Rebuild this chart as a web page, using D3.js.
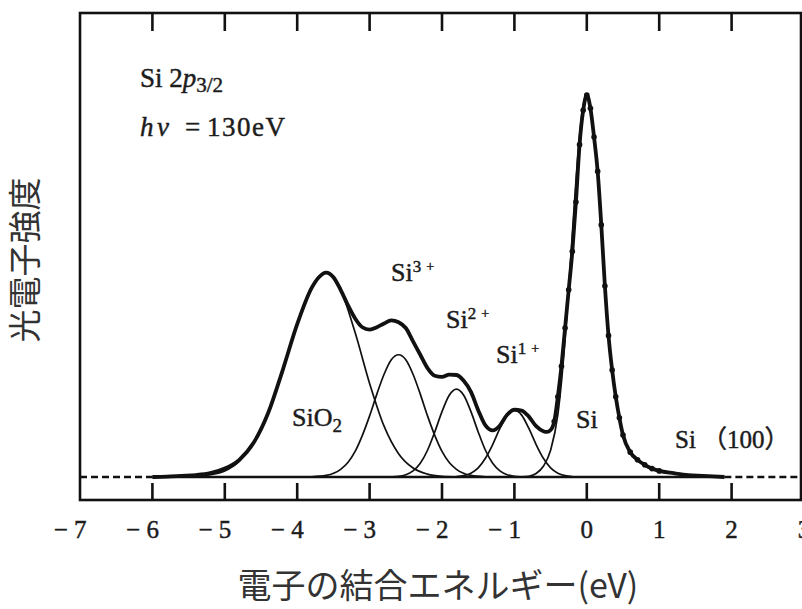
<!DOCTYPE html>
<html>

<head>
    <meta charset="utf-8" />
    <script src="https://d3js.org/d3.v7.min.js"></script>
    <style>
        body {
            margin: 0;
            background: #fff;
        }

        .serif {
            font-family: 'Liberation Serif', 'Noto Sans CJK JP', serif;
            fill: #1c1c1c;
            stroke: #1c1c1c;
            stroke-width: 0.45px;
        }

        .title {
            font-family: 'Noto Sans CJK JP', sans-serif;
            fill: #333;
        }
    </style>
</head>

<body>
    <script>
        // measured spectrum (binding energy eV, intensity)
        const spectrum = [
            [-6.0, 0], [-5.8, 0.1], [-5.6, 0.3], [-5.4, 0.5], [-5.2, 1.0], [-5.0, 2.2], [-4.8, 4.5],
            [-4.6, 9.0], [-4.4, 16.8], [-4.2, 28], [-4.0, 40], [-3.8, 49.5], [-3.7, 52.3], [-3.6, 53.5],
            [-3.5, 52.3], [-3.4, 49], [-3.3, 45], [-3.2, 41.5], [-3.1, 39.2], [-3.0, 38.6], [-2.9, 39.2],
            [-2.8, 40.2], [-2.7, 41], [-2.6, 40.5], [-2.5, 39], [-2.4, 35.5], [-2.3, 32], [-2.2, 28.5],
            [-2.1, 26.5], [-2.0, 26.2], [-1.9, 26.8], [-1.8, 26.7], [-1.7, 25.2], [-1.6, 22.3], [-1.5, 17.5],
            [-1.4, 13.5], [-1.3, 12.2], [-1.2, 13.5], [-1.1, 16.3], [-1.0, 17.6], [-0.9, 17.4], [-0.8, 15.8],
            [-0.7, 13.3], [-0.6, 12], [-0.55, 11.8], [-0.5, 12.3], [-0.45, 14.5], [-0.4, 21], [-0.35, 29],
            [-0.3, 39], [-0.25, 49], [-0.2, 59], [-0.15, 72], [-0.1, 87], [-0.05, 96], [0, 100],
            [0.05, 96.5], [0.1, 89], [0.15, 80], [0.2, 66], [0.25, 50], [0.3, 37], [0.35, 28], [0.4, 21],
            [0.45, 15.5], [0.5, 11], [0.6, 6.5], [0.7, 4.5], [0.8, 3.2], [0.9, 2.2], [1.0, 1.6],
            [1.2, 1.0], [1.4, 0.5], [1.6, 0.3], [1.9, 0]
        ];

        // fitted components
        const compSiO2 = [
            [-5.6, 0.05], [-5.4, 0.2], [-5.2, 0.6], [-5.0, 1.6], [-4.8, 4.1], [-4.6, 9.0], [-4.4, 17.1],
            [-4.2, 28.2], [-4.0, 40.2], [-3.8, 49.8], [-3.6, 53.5], [-3.4, 49.0], [-3.2, 37.8], [-3.0, 24.5],
            [-2.8, 13.3], [-2.6, 6.1], [-2.4, 2.35], [-2.2, 0.76], [-2.0, 0.2], [-1.8, 0.05]
        ];
        const compSi3 = [
            [-3.8, 0.06], [-3.6, 0.42], [-3.4, 2.0], [-3.3, 3.8], [-3.2, 6.7], [-3.1, 10.9], [-3.0, 16.0],
            [-2.9, 21.7], [-2.8, 26.9], [-2.7, 30.7], [-2.6, 32], [-2.5, 30.7], [-2.4, 26.9], [-2.3, 21.7],
            [-2.2, 16.0], [-2.1, 10.9], [-2.0, 6.7], [-1.9, 3.8], [-1.8, 2.0], [-1.6, 0.42], [-1.4, 0.06]
        ];
        const compSi2 = [
            [-2.8, 0.03], [-2.6, 0.2], [-2.5, 0.6], [-2.4, 1.6], [-2.3, 3.6], [-2.2, 7.0], [-2.1, 11.8],
            [-2.0, 17.1], [-1.9, 21.4], [-1.8, 23], [-1.7, 21.4], [-1.6, 17.1], [-1.5, 11.8], [-1.4, 7.0],
            [-1.3, 3.6], [-1.2, 1.6], [-1.1, 0.6], [-1.0, 0.2], [-0.8, 0.03]
        ];
        const compSi1 = [
            [-1.8, 0.1], [-1.7, 0.35], [-1.6, 1.0], [-1.5, 2.4], [-1.4, 4.9], [-1.3, 8.5], [-1.2, 12.7],
            [-1.1, 16.2], [-1.0, 17.5], [-0.9, 16.2], [-0.8, 12.7], [-0.7, 8.5], [-0.6, 4.9], [-0.5, 2.4],
            [-0.4, 1.0], [-0.3, 0.35], [-0.2, 0.1]
        ];
        const compSi = [
            [-0.9, 0.05], [-0.8, 0.2], [-0.7, 0.9], [-0.6, 2.8], [-0.5, 7.0], [-0.4, 16.3], [-0.35, 24.9],
            [-0.3, 36], [-0.25, 49.2], [-0.2, 63.6], [-0.15, 77.5], [-0.1, 89.3], [-0.05, 97.2], [0, 100],
            [0.05, 96], [0.1, 89], [0.15, 80], [0.2, 66], [0.25, 50], [0.3, 37], [0.35, 28], [0.4, 21],
            [0.45, 15.5], [0.5, 11], [0.6, 6.5], [0.7, 4.5], [0.8, 3.2], [0.9, 2.2], [1.0, 1.6],
            [1.2, 1.0], [1.4, 0.5], [1.6, 0.3], [1.9, 0]
        ];

        const energyTicks = [-7, -6, -5, -4, -3, -2, -1, 0, 1, 2, 3];
        const dataRange = [-6.0, 1.9];

        // dimensions
        const margin = { top: 13, left: 80 };
        const width = 721;
        const height = 487;

        const svg = d3.select('body')
            .append('svg')
            .attr('width', 802)
            .attr('height', 609);

        const g = svg.append('g')
            .attr('transform', `translate(${margin.left},${margin.top})`);

        const x = d3.scaleLinear().domain([-7, 3]).range([0, 724]);
        const y = d3.scaleLinear().domain([0, 100]).range([464, 82]);

        const line = d3.line()
            .x(d => x(d[0]))
            .y(d => y(d[1]))
            .curve(d3.curveMonotoneX);

        // frame
        g.append('rect')
            .attr('x', 0)
            .attr('y', 0)
            .attr('width', width)
            .attr('height', height)
            .attr('fill', 'none')
            .attr('stroke', '#111')
            .attr('stroke-width', 2.6);

        // inward ticks top and bottom
        const inner = energyTicks.filter(d => x(d) > 1 && x(d) < width - 1);
        g.selectAll('.tickTop')
            .data(inner)
            .enter()
            .append('line')
            .attr('x1', d => x(d))
            .attr('x2', d => x(d))
            .attr('y1', 0)
            .attr('y2', 18)
            .attr('stroke', '#111')
            .attr('stroke-width', 2.6);
        g.selectAll('.tickBottom')
            .data(inner)
            .enter()
            .append('line')
            .attr('x1', d => x(d))
            .attr('x2', d => x(d))
            .attr('y1', height)
            .attr('y2', height - 17)
            .attr('stroke', '#111')
            .attr('stroke-width', 2.6);

        // tick labels
        svg.selectAll('.tickLabel')
            .data(energyTicks)
            .enter()
            .append('text')
            .attr('class', 'serif')
            .attr('x', d => margin.left + x(d) + (d < 0 ? 6.5 : 0))
            .attr('y', 538)
            .attr('text-anchor', d => d < 0 ? 'end' : 'middle')
            .style('font-size', '25px')
            .text(d => d < 0 ? '\u2212 ' + Math.abs(d) : String(d));

        // baseline: dashed outside the data range, solid inside
        g.append('line')
            .attr('x1', x(-7))
            .attr('x2', x(dataRange[0]))
            .attr('y1', y(0))
            .attr('y2', y(0))
            .attr('stroke', '#111')
            .attr('stroke-width', 2.3)
            .attr('stroke-dasharray', '7,4');
        g.append('line')
            .attr('x1', x(dataRange[1]))
            .attr('x2', width)
            .attr('y1', y(0))
            .attr('y2', y(0))
            .attr('stroke', '#111')
            .attr('stroke-width', 2.3)
            .attr('stroke-dasharray', '7,4');
        g.append('line')
            .attr('x1', x(dataRange[0]))
            .attr('x2', x(dataRange[1]))
            .attr('y1', y(0))
            .attr('y2', y(0))
            .attr('stroke', '#111')
            .attr('stroke-width', 2.3);

        // components
        [compSiO2, compSi3, compSi2, compSi1, compSi].forEach(c => {
            g.append('path')
                .datum(c)
                .attr('d', line)
                .attr('fill', 'none')
                .attr('stroke', '#111')
                .attr('stroke-width', 1.7);
        });

        // measured envelope
        g.append('path')
            .datum(spectrum)
            .attr('d', line)
            .attr('fill', 'none')
            .attr('stroke', '#111')
            .attr('stroke-width', 3.8)
            .attr('stroke-linejoin', 'round');

        // data dots on the Si peak
        g.selectAll('.dot')
            .data(spectrum.filter(d => d[0] >= -0.45 && d[0] <= 1.0))
            .enter()
            .append('circle')
            .attr('cx', d => x(d[0]))
            .attr('cy', d => y(d[1]))
            .attr('r', 2.8)
            .attr('fill', '#111');

        // annotations
        const t1 = svg.append('text').attr('class', 'serif').attr('x', 140).attr('y', 87).style('font-size', '27px');
        t1.append('tspan').text('Si 2');
        t1.append('tspan').style('font-style', 'italic').text('p');
        t1.append('tspan').attr('dy', 5).style('font-size', '21px').text('3/2');

        const t2 = svg.append('text').attr('class', 'serif').attr('y', 136).style('font-size', '27px');
        t2.append('tspan').attr('x', 140).style('font-style', 'italic').text('h');
        t2.append('tspan').attr('x', 157).style('font-style', 'italic').text('\u03bd');
        t2.append('tspan').attr('x', 185).text('=');
        t2.append('tspan').attr('x', 207).style('letter-spacing', '1.5px').text('130eV');

        function ionLabel(x0, y0, n) {
            const t = svg.append('text').attr('class', 'serif').attr('x', x0).attr('y', y0).style('font-size', '26px');
            t.append('tspan').text('Si');
            t.append('tspan').attr('dy', -9).style('font-size', '17px').text(n);
            t.append('tspan').attr('dx', 5).attr('dy', -1).style('font-size', '14px').text('+');
        }
        ionLabel(391, 281, '3');
        ionLabel(446, 328, '2');
        ionLabel(496, 363, '1');

        const t3 = svg.append('text').attr('class', 'serif').attr('x', 292).attr('y', 426).style('font-size', '26px');
        t3.append('tspan').text('SiO');
        t3.append('tspan').attr('dy', 6).style('font-size', '19px').text('2');

        svg.append('text').attr('class', 'serif').attr('x', 576).attr('y', 428)
            .style('font-size', '26px').text('Si');
        svg.append('text').attr('class', 'serif').attr('x', 675).attr('y', 448)
            .style('font-size', '25px').text('Si\u00a0\uff08100\uff09');

        // axis titles
        svg.append('text')
            .attr('class', 'title')
            .attr('x', 438)
            .attr('y', 598)
            .attr('text-anchor', 'middle')
            .style('font-size', '34px')
            .text('電子の結合エネルギー(eV)');

        svg.append('text')
            .attr('class', 'title')
            .attr('transform', 'translate(37,260) rotate(-90)')
            .attr('text-anchor', 'middle')
            .style('font-size', '33px')
            .text('光電子強度');
    </script>
</body>

</html>
